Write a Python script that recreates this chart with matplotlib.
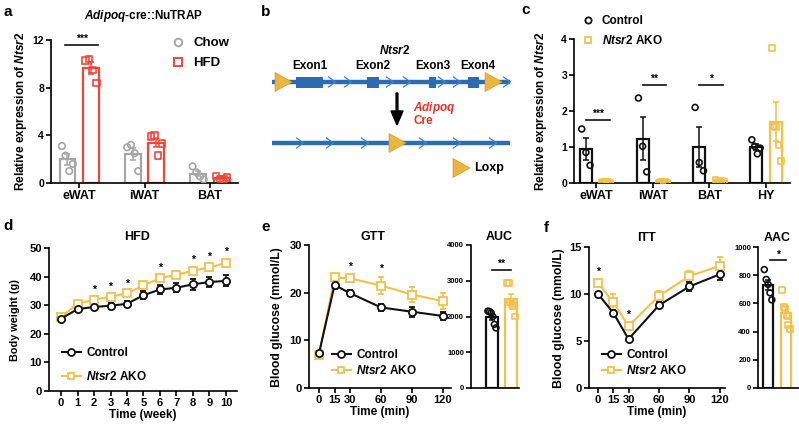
import numpy as np
import matplotlib
matplotlib.use('Agg')
import matplotlib.pyplot as plt
from matplotlib.patches import Polygon, Rectangle, FancyArrow
from matplotlib.lines import Line2D

W, H = 799, 424

plt.rcParams['font.family'] = ['Liberation Sans', 'DejaVu Sans']
plt.rcParams['font.weight'] = 'bold'
plt.rcParams['axes.labelweight'] = 'bold'
plt.rcParams['mathtext.fontset'] = 'custom'
plt.rcParams['mathtext.rm'] = 'Liberation Sans:bold'
plt.rcParams['mathtext.it'] = 'Liberation Sans:italic:bold'
plt.rcParams['mathtext.bf'] = 'Liberation Sans:bold'

GREY = '#a6a6a6'
RED = '#f0463a'
GOLD = '#f3c04a'
BLACK = '#111111'
BLUE = '#2d6cb0'
LOX = '#ebb540'

## data
# a: Adipoq-cre::NuTRAP, relative Ntsr2 expression
tissues_a = ['eWAT', 'iWAT', 'BAT']
chow_a = [[3.1, 2.3, 1.0, 1.6], [3.0, 3.2, 2.5, 1.0], [1.4, 0.9, 0.55, 0.3]]
hfd_a = [[10.3, 10.4, 9.5, 8.4], [3.9, 4.0, 2.3, 3.3], [0.6, 0.35, 0.3, 0.45]]

# b: gene diagram
exon_names = ['Exon1', 'Exon2', 'Exon3', 'Exon4']
exon_start = [296, 367, 429, 468]
exon_end = [323, 379, 436, 479]
chevrons_top = [332, 348, 390, 407, 442, 457, 507]
chevrons_bottom = [300, 330, 365, 423, 457, 493]

# c: knockout efficiency
tissues_c = ['eWAT', 'iWAT', 'BAT', 'HY']
ctrl_c = [[1.5, 0.85, 0.49], [2.36, 1.02, 0.31], [2.1, 0.57, 0.34], [1.2, 1.02, 0.81, 0.97]]
ako_c = [[0.03, 0.01, 0.02, 0.02, 0.01], [0.01, 0.02, 0.01, 0.02, 0.01],
         [0.08, 0.03, 0.05, 0.02], [3.75, 1.57, 1.55, 1.05, 0.62]]
sig_c = ['***', '**', '*', '']
sig_c_y = [1.76, 2.73, 2.73, None]

# d: body weight on HFD
weeks = [0, 1, 2, 3, 4, 5, 6, 7, 8, 9, 10]
bw_ctrl = [25.3, 28.6, 29.4, 29.8, 30.5, 33.5, 35.5, 36.1, 37.3, 38.1, 38.5]
bw_ctrl_err = [0.6, 0.8, 1.1, 1.0, 1.1, 1.5, 1.6, 1.6, 1.9, 1.9, 1.9]
bw_ako = [25.9, 30.5, 31.9, 33.0, 34.1, 36.9, 39.5, 40.6, 42.1, 43.2, 44.8]
bw_ako_err = [0.4, 0.6, 0.7, 0.7, 0.7, 0.8, 0.9, 1.0, 1.1, 1.1, 1.0]
bw_sig = [2, 3, 4, 6, 8, 9, 10]

# e: GTT
gtt_t = [0, 15, 30, 60, 90, 120]
gtt_ctrl = [7.3, 21.6, 19.9, 16.9, 16.0, 15.1]
gtt_ctrl_err = [0.4, 0.8, 0.7, 0.8, 1.0, 0.9]
gtt_ako = [6.9, 23.2, 23.0, 21.5, 19.6, 18.2]
gtt_ako_err = [0.3, 0.8, 0.8, 1.8, 1.6, 1.7]
gtt_sig = [30, 60]
auc_ctrl = [2150, 2140, 2100, 2000, 1780, 1680]
auc_ako = [2930, 2930, 2400, 2350, 2300, 2000]

# f: ITT
itt_t = [0, 15, 30, 60, 90, 120]
itt_ctrl = [10.0, 8.0, 5.2, 8.8, 10.8, 12.1]
itt_ctrl_err = [0.2, 0.3, 0.2, 0.3, 0.5, 0.6]
itt_ako = [11.2, 9.1, 6.6, 9.8, 11.9, 13.0]
itt_ako_err = [0.3, 0.9, 0.4, 0.5, 0.6, 0.9]
itt_sig = [0, 30]
aac_ctrl = [840, 770, 735, 675, 625]
aac_ako = [695, 575, 560, 510, 445, 420]

AKO = r'$\mathit{Ntsr2}$ AKO'

fig = plt.figure(figsize=(W / 100, H / 100), dpi=100)


def add_px(l, t, r, b):
    return fig.add_axes([l / W, 1 - b / H, (r - l) / W, (b - t) / H])


def ftext(x, y, s, **kw):
    kw.setdefault('ha', 'center')
    kw.setdefault('va', 'center')
    fig.text(x / W, 1 - y / H, s, **kw)


def style(ax, size=7.5):
    for s in ('top', 'right'):
        ax.spines[s].set_visible(False)
    for s in ('left', 'bottom'):
        ax.spines[s].set_linewidth(1.2)
    ax.tick_params(direction='out', length=3.5, width=1.2, labelsize=size, pad=1.5)
    ax.patch.set_alpha(0)


def dot_bar(ax, x, pts, color, marker, width, ms=22):
    pts = np.asarray(pts, dtype=float)
    m = pts.mean()
    se = pts.std(ddof=1) / np.sqrt(len(pts))
    ax.bar(x, m, width=width, facecolor='none', edgecolor=color, linewidth=1.6, zorder=2)
    ax.errorbar(x, m, yerr=se, color=color, capsize=2.5, elinewidth=1.1, capthick=1.1, zorder=3)
    offs = np.linspace(-0.35, 0.35, len(pts)) * width
    ax.scatter(x + offs, pts, s=ms, facecolors='none', edgecolors=color, marker=marker,
               linewidths=1.2, zorder=4)


def sig_line(ax, x0, x1, y, stars, size=7.5):
    ax.plot([x0, x1], [y, y], color=BLACK, lw=1.2, clip_on=False)
    ax.annotate(stars, ((x0 + x1) / 2, y), xytext=(0, 0.5), textcoords='offset points',
                ha='center', va='bottom', fontsize=size, annotation_clip=False)


def line_err(ax, x, y, e, color, marker):
    ax.errorbar(x, y, yerr=e, color=color, marker=marker, ms=5.2, mfc='white', mec=color, mew=1.3,
                lw=1.5, capsize=2.5, capthick=1.1, elinewidth=1.1, zorder=3, clip_on=False)


def stars_above(ax, xs, x, y, e, size=7.5):
    for xv in xs:
        i = list(x).index(xv)
        ax.annotate('*', (xv, y[i] + e[i]), xytext=(0, 2), textcoords='offset points',
                    ha='center', va='bottom', fontsize=size, annotation_clip=False)


def line_legend(ax, x0, y0, spacing, size=8.5):
    h = [Line2D([], [], color=BLACK, marker='o', ms=5, mfc='white', mec=BLACK, mew=1.3, lw=1.5),
         Line2D([], [], color=GOLD, marker='s', ms=5, mfc='white', mec=GOLD, mew=1.3, lw=1.5)]
    fig.legend(h, ['Control', AKO], loc='upper left', bbox_to_anchor=(x0 / W, 1 - y0 / H),
               frameon=False, fontsize=size, handlelength=1.6, handletextpad=0.45,
               labelspacing=spacing, borderpad=0, borderaxespad=0)


# ---------- panel letters
for letter, (px, py) in {'a': (8, 12), 'b': (266, 12), 'c': (526, 10),
                         'd': (8, 226), 'e': (266, 227), 'f': (546, 228)}.items():
    ftext(px, py, letter, fontsize=11)

# ---------- a
ax = add_px(51, 40, 238, 183)
style(ax)
xa = np.arange(len(tissues_a))
for i in range(len(tissues_a)):
    dot_bar(ax, xa[i] - 0.18, chow_a[i], GREY, 'o', 0.24)
    dot_bar(ax, xa[i] + 0.18, hfd_a[i], RED, 's', 0.24)
sig_line(ax, xa[0] - 0.21, xa[0] + 0.29, 11.6, '***')
ax.set_xlim(-0.43, 2.43)
ax.set_ylim(0, 12)
ax.set_yticks([0, 4, 8, 12])
ax.set_xticks(xa)
ax.set_xticklabels(tissues_a, fontsize=9)
ftext(144, 16, r'$\mathit{Adipoq}$-cre::NuTRAP', fontsize=8.5)
ftext(21, 111, r'Relative expression of $\mathit{Ntsr2}$', fontsize=8.5, rotation=90)
h = [Line2D([], [], ls='', marker='o', ms=5.5, mfc='none', mec=GREY, mew=1.4),
     Line2D([], [], ls='', marker='s', ms=5.5, mfc='none', mec=RED, mew=1.4)]
fig.legend(h, ['Chow', 'HFD'], loc='upper left', bbox_to_anchor=(171 / W, 1 - 37 / H),
           frameon=False, fontsize=9.5, handlelength=1.0, handletextpad=0.7,
           labelspacing=0.6, borderpad=0, borderaxespad=0)

# ---------- b
ax = add_px(262, 28, 525, 190)
ax.set_xlim(262, 525)
ax.set_ylim(190, 28)
ax.axis('off')


def loxp(x0, yc, w=17, hh=9.5):
    ax.add_patch(Polygon([[x0, yc - hh], [x0, yc + hh], [x0 + w, yc]], closed=True,
                         facecolor=LOX, edgecolor='#d9982a', lw=0.5, zorder=4))


def chevron(x, yc):
    ax.plot([x - 3.5, x + 3.5, x - 3.5], [yc - 5, yc, yc + 5], color='#3f86c8', lw=0.9, zorder=3)


yt, yb = 82, 143
ax.plot([272, 510], [yt, yt], color=BLUE, lw=3.2, solid_capstyle='butt', zorder=1)
ax.plot([272, 510], [yb, yb], color=BLUE, lw=3.2, solid_capstyle='butt', zorder=1)
for s, e, name in zip(exon_start, exon_end, exon_names):
    ax.add_patch(Rectangle((s, yt - 5.5), e - s, 11, facecolor=BLUE, edgecolor='none', zorder=2))
    ax.text((s + e) / 2 + (4 if name == 'Exon4' else 0), 66, name, ha='center', va='center', fontsize=8.5)
for c in chevrons_top:
    chevron(c, yt)
for c in chevrons_bottom:
    chevron(c, yb)
loxp(275, yt)
loxp(485, yt)
loxp(389, yb)
ax.text(395, 50, r'$\mathit{Ntsr2}$', ha='center', va='center', fontsize=8.5)
ax.add_patch(FancyArrow(397, 93, 0, 32, width=1.8, head_width=12, head_length=14,
                        length_includes_head=True, color='black', zorder=3))
ax.text(413, 108, r'$\mathit{Adipoq}$', ha='left', va='center', fontsize=8.5, color='#e8302a')
ax.text(413, 121, 'Cre', ha='left', va='center', fontsize=8.5, color='#e8302a')
loxp(453, 168)
ax.text(474, 168, 'Loxp', ha='left', va='center', fontsize=9)

# ---------- c
ax = add_px(574, 39, 790, 183)
style(ax)
xc = np.arange(len(tissues_c))
for i in range(len(tissues_c)):
    dot_bar(ax, xc[i] - 0.18, ctrl_c[i], BLACK, 'o', 0.21, ms=18)
    dot_bar(ax, xc[i] + 0.18, ako_c[i], GOLD, 's', 0.21, ms=18)
    if sig_c[i]:
        sig_line(ax, xc[i] - 0.18, xc[i] + 0.24, sig_c_y[i], sig_c[i])
ax.set_xlim(-0.39, 3.42)
ax.set_ylim(0, 4)
ax.set_yticks([0, 1, 2, 3, 4])
ax.set_xticks(xc)
ax.set_xticklabels(tissues_c, fontsize=9)
ftext(541, 111, r'Relative expression of $\mathit{Ntsr2}$', fontsize=8.5, rotation=90)
h = [Line2D([], [], ls='', marker='o', ms=4.5, mfc='none', mec=BLACK, mew=1.3),
     Line2D([], [], ls='', marker='s', ms=4.5, mfc='none', mec=GOLD, mew=1.3)]
fig.legend(h, ['Control', AKO], loc='upper left', bbox_to_anchor=(583 / W, 1 - 15 / H),
           frameon=False, fontsize=8.5, handlelength=0.8, handletextpad=0.8,
           labelspacing=0.6, borderpad=0, borderaxespad=0)

# ---------- d
ax = add_px(49, 248, 237, 391)
style(ax, size=8)
line_err(ax, weeks, bw_ako, bw_ako_err, GOLD, 's')
line_err(ax, weeks, bw_ctrl, bw_ctrl_err, BLACK, 'o')
stars_above(ax, bw_sig, weeks, bw_ako, bw_ako_err)
ax.set_xlim(-0.73, 10.67)
ax.set_ylim(0, 50)
ax.set_xticks(weeks)
ax.set_yticks([0, 10, 20, 30, 40, 50])
ax.set_xlabel('Time (week)', fontsize=8.5, labelpad=1)
ftext(137, 237, 'HFD', fontsize=9)
ftext(15, 320, 'Body weight (g)', fontsize=7.8, rotation=90)
line_legend(ax, 62, 347, 0.95)

# ---------- e
ax = add_px(309, 245, 451, 388)
style(ax, size=8)
line_err(ax, gtt_t, gtt_ako, gtt_ako_err, GOLD, 's')
line_err(ax, gtt_t, gtt_ctrl, gtt_ctrl_err, BLACK, 'o')
stars_above(ax, gtt_sig, gtt_t, gtt_ako, gtt_ako_err)
ax.set_xlim(-9.7, 127.7)
ax.set_ylim(0, 30)
ax.set_xticks(gtt_t)
ax.set_yticks([0, 10, 20, 30])
ax.set_xlabel('Time (min)', fontsize=8.5, labelpad=1)
ftext(373, 237, 'GTT', fontsize=9)
ftext(277, 317, 'Blood glucose (mmol/L)', fontsize=8.8, rotation=90)
line_legend(ax, 332, 349, 0.25)

ax = add_px(471, 245, 519, 388)
style(ax, size=5.5)
dot_bar(ax, 0, auc_ctrl, BLACK, 'o', 0.6, ms=18)
dot_bar(ax, 1, auc_ako, GOLD, 's', 0.6, ms=18)
sig_line(ax, 0, 1, 3300, '**')
ax.set_xlim(-1.1, 1.42)
ax.set_ylim(0, 4000)
ax.set_yticks([0, 1000, 2000, 3000, 4000])
ax.set_xticks([])
ftext(499, 237, 'AUC', fontsize=9)

# ---------- f
ax = add_px(589, 247, 725, 388)
style(ax, size=8)
line_err(ax, itt_t, itt_ako, itt_ako_err, GOLD, 's')
line_err(ax, itt_t, itt_ctrl, itt_ctrl_err, BLACK, 'o')
stars_above(ax, itt_sig, itt_t, itt_ako, itt_ako_err)
ax.set_xlim(-8.9, 125)
ax.set_ylim(0, 15)
ax.set_xticks(itt_t)
ax.set_yticks([0, 5, 10, 15])
ax.set_xlabel('Time (min)', fontsize=8.5, labelpad=1)
ftext(647, 238, 'ITT', fontsize=9)
ftext(559, 318, 'Blood glucose (mmol/L)', fontsize=8.8, rotation=90)
line_legend(ax, 602, 349, 0.25)

ax = add_px(758, 247, 799, 388)
style(ax, size=5.5)
dot_bar(ax, 0, aac_ctrl, BLACK, 'o', 0.6, ms=18)
dot_bar(ax, 1, aac_ako, GOLD, 's', 0.6, ms=18)
sig_line(ax, 0.1, 1.0, 905, '*')
ax.set_xlim(-0.56, 1.72)
ax.set_ylim(0, 1000)
ax.set_yticks([0, 200, 400, 600, 800, 1000])
ax.set_xticks([])
ftext(777, 238, 'AAC', fontsize=9)

fig.savefig('out.png', dpi=100, facecolor='white')
